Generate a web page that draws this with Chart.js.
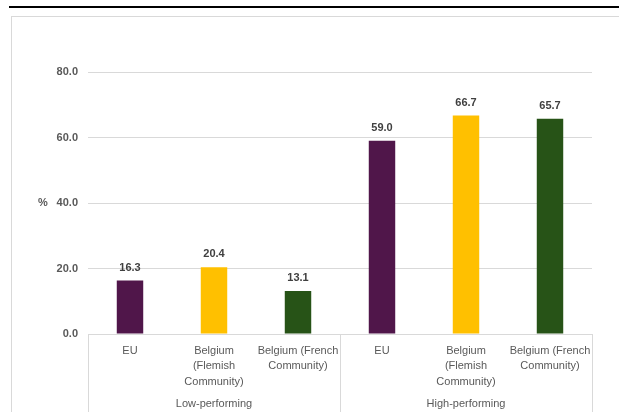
<!DOCTYPE html>
<html>
<head>
<meta charset="utf-8">
<script src="https://cdn.jsdelivr.net/npm/chart.js@4.4.1/dist/chart.umd.min.js"></script>
<style>
  html, body { margin: 0; padding: 0; background: #fff; }
  canvas { display: block; }
</style>
</head>
<body>
<canvas id="chart" width="619" height="412"></canvas>
<script>
// categories, one label array per line of text
const countries = [
    ['EU'],
    ['Belgium', '(Flemish', 'Community)'],
    ['Belgium (French', 'Community)']
];
const groups = ['Low-performing', 'High-performing'];
const values = [16.3, 20.4, 13.1, 59.0, 66.7, 65.7];
const barColors = ['#50164a', '#ffc000', '#275317', '#50164a', '#ffc000', '#275317'];
const yTicks = [0, 20, 40, 60, 80];

const labels = [];
groups.forEach(() => countries.forEach(c => labels.push(c)));

const fontFamily = "'Liberation Sans', Arial, sans-serif";

const framePlugin = {
    id: 'frame',
    beforeDraw(chart) {
        const c = chart.ctx;
        c.save();
        c.fillStyle = '#fff';
        c.fillRect(0, 0, chart.width, chart.height);
        c.fillStyle = '#000';
        c.fillRect(9, 6, chart.width - 9, 2);
        c.strokeStyle = '#d9d9d9';
        c.lineWidth = 1;
        c.strokeRect(11.5, 16.5, chart.width + 20, chart.height + 20);
        c.restore();
    },
    afterDraw(chart) {
        const c = chart.ctx;
        const area = chart.chartArea;
        const y = chart.scales.y;
        c.save();

        // box lines of the two-level category axis
        const per = countries.length;
        const step = (area.right - area.left) / labels.length;
        c.strokeStyle = '#d9d9d9';
        c.lineWidth = 1;
        for (let g = 0; g <= groups.length; g++) {
            const px = Math.round(area.left + g * per * step) + 0.5;
            c.beginPath();
            c.moveTo(px, area.bottom);
            c.lineTo(px, chart.height);
            c.stroke();
        }

        // group labels
        c.fillStyle = '#595959';
        c.font = '11px ' + fontFamily;
        c.textAlign = 'center';
        c.textBaseline = 'middle';
        groups.forEach((g, i) => {
            const cx = area.left + (i * per + per / 2) * step;
            c.fillText(g, cx, 404);
        });

        // axis unit
        c.font = 'bold 11px ' + fontFamily;
        c.fillText('%', 43, y.getPixelForValue(40));

        // value labels above bars
        c.fillStyle = '#404040';
        const meta = chart.getDatasetMeta(0);
        meta.data.forEach((bar, i) => {
            c.fillText(values[i].toFixed(1), bar.x, bar.y - 13);
        });
        c.restore();
    }
};

new Chart(document.getElementById('chart'), {
    type: 'bar',
    data: {
        labels: labels,
        datasets: [{
            data: values,
            backgroundColor: barColors,
            barPercentage: 0.315,
            categoryPercentage: 1
        }]
    },
    options: {
        responsive: false,
        animation: false,
        devicePixelRatio: 1,
        layout: { padding: { left: 20, right: 27, top: 72, bottom: 0 } },
        plugins: {
            legend: { display: false },
            tooltip: { enabled: false }
        },
        scales: {
            x: {
                grid: { display: false, drawTicks: false },
                border: { color: '#d9d9d9' },
                ticks: {
                    color: '#595959',
                    font: { family: fontFamily, size: 11, lineHeight: 1.4 },
                    padding: 9,
                    maxRotation: 0,
                    autoSkip: false
                },
                afterFit(s) { s.height = 78; }
            },
            y: {
                min: 0,
                max: 80,
                afterBuildTicks(s) { s.ticks = yTicks.map(v => ({ value: v })); },
                grid: { color: '#d9d9d9', drawTicks: false },
                border: { display: false },
                ticks: {
                    color: '#595959',
                    font: { family: fontFamily, size: 11, weight: 'bold' },
                    padding: 10,
                    callback: v => v.toFixed(1)
                },
                afterFit(s) { s.width = 68; }
            }
        }
    },
    plugins: [framePlugin]
});
</script>
</body>
</html>
